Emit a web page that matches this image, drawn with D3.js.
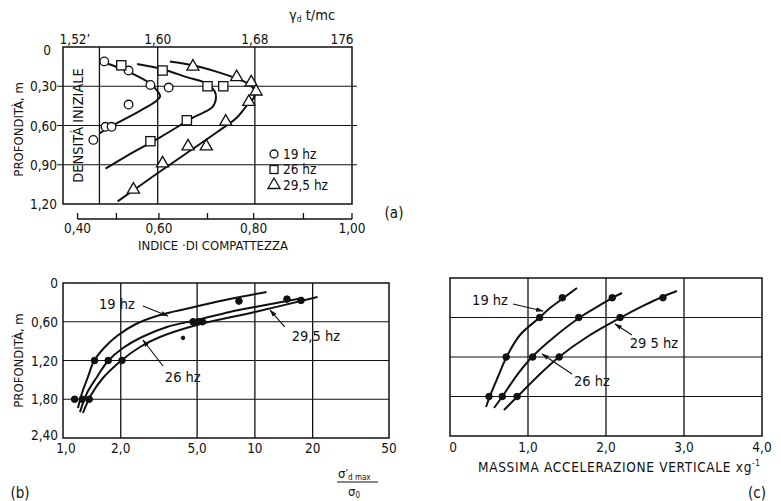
<!DOCTYPE html>
<html><head><meta charset="utf-8">
<script src="https://cdn.jsdelivr.net/npm/d3@7"></script>
<style>
body{margin:0;background:#fff}
svg{display:block}
text{font-family:"DejaVu Sans Condensed","Liberation Sans Narrow","Arial Narrow",sans-serif;fill:#111}
</style>
</head><body>
<svg id="chart" width="781" height="501"></svg>
<script>
// ---------- DATA ----------
// Panel (a): depth (m) vs dry density gamma_d (t/mc)
const depthTicksA = [0, 0.30, 0.60, 0.90, 1.20];
const depthLabelsA = ["0", "0,30", "0,60", "0,90", "1,20"];
const gammaTicks = [1.52, 1.60, 1.68, 1.76];
const gammaLabels = ["1,52\u2019", "1,60", "1,68", "176"];
const gammaGrid = [1.60, 1.68];
const initialDensity = 1.552;
const compTicks = [0.40, 0.50, 0.60, 0.70, 0.80, 0.90, 1.00];
const compTickGamma = [1.534, 1.566, 1.601, 1.641, 1.679, 1.720, 1.760];
const compLabels = {0.4: "0,40", 0.6: "0,60", 0.8: "0,80", 1.0: "1,00"};

const a19Gamma = [1.556, 1.576, 1.594, 1.609, 1.576, 1.557, 1.562, 1.547];
const a19Depth = [0.11, 0.18, 0.29, 0.31, 0.44, 0.61, 0.61, 0.71];
const a26Gamma = [1.570, 1.604, 1.641, 1.654, 1.624, 1.594];
const a26Depth = [0.14, 0.18, 0.30, 0.30, 0.56, 0.72];
const a295Gamma = [1.629, 1.665, 1.677, 1.681, 1.675, 1.656, 1.625, 1.640, 1.604, 1.580];
const a295Depth = [0.15, 0.23, 0.27, 0.34, 0.42, 0.57, 0.76, 0.76, 0.89, 1.09];

const c19Gamma = [1.555, 1.576, 1.594, 1.600, 1.602, 1.599, 1.585, 1.563, 1.552];
const c19Depth = [0.115, 0.19, 0.28, 0.34, 0.375, 0.41, 0.49, 0.60, 0.66];
const c26Gamma = [1.583, 1.604, 1.624, 1.641, 1.647, 1.648, 1.645, 1.629, 1.602, 1.575, 1.557];
const c26Depth = [0.13, 0.17, 0.23, 0.28, 0.34, 0.39, 0.46, 0.54, 0.69, 0.83, 0.93];
const c295Gamma = [1.610, 1.629, 1.649, 1.665, 1.676, 1.680, 1.679, 1.674, 1.665, 1.649, 1.624, 1.596, 1.567];
const c295Depth = [0.11, 0.14, 0.19, 0.24, 0.29, 0.34, 0.39, 0.44, 0.54, 0.65, 0.81, 0.99, 1.18];

// Panel (b): depth vs sigma'dmax/sigma0 (log)
const depthTicksB = [0, 0.60, 1.20, 1.80, 2.40];
const depthLabelsB = ["0", "0,60", "1,20", "1,80", "2,40"];
const ratioTicks = [1, 2, 5, 10, 20, 50];
const ratioLabels = ["1,0", "2,0", "5,0", "10", "20", "50"];
const b19Ratio = [1.15, 1.46, 8.26];
const b19Depth = [1.80, 1.20, 0.28];
const b26Ratio = [1.26, 1.72, 4.76, 5.05, 14.7];
const b26Depth = [1.80, 1.20, 0.60, 0.60, 0.25];
const b295Ratio = [1.37, 2.03, 5.33, 17.4];
const b295Depth = [1.80, 1.20, 0.60, 0.27];
const bStrayRatio = [4.22];
const bStrayDepth = [0.85];

const bc19Ratio = [1.197, 1.256, 1.349, 1.450, 1.635, 1.911, 2.40, 3.20, 4.58, 7.39, 11.5];
const bc19Depth = [1.935, 1.703, 1.455, 1.208, 1.006, 0.821, 0.635, 0.495, 0.387, 0.248, 0.139];
const bc26Ratio = [1.226, 1.334, 1.503, 1.715, 2.054, 2.58, 3.48, 4.98, 7.4, 10.0, 17.8];
const bc26Depth = [2.0, 1.703, 1.455, 1.208, 1.006, 0.836, 0.681, 0.573, 0.449, 0.372, 0.232];
const bc295Ratio = [1.27, 1.40, 1.615, 2.03, 2.52, 3.2, 4.98, 10.0, 21.2];
const bc295Depth = [2.013, 1.734, 1.471, 1.192, 0.991, 0.836, 0.650, 0.449, 0.217];

// Panel (c): depth vs max vertical acceleration (g)
const accTicks = [0, 1, 2, 3, 4];
const accLabels = ["0", "1,0", "2,0", "3,0", "4,0"];
const c_19Acc = [1.44, 1.15, 0.72, 0.50];
const c_19Depth = [0.30, 0.60, 1.20, 1.80];
const c_26Acc = [2.08, 1.65, 1.06, 0.67];
const c_26Depth = [0.30, 0.60, 1.20, 1.80];
const c_295Acc = [2.73, 2.18, 1.40, 0.86];
const c_295Depth = [0.30, 0.60, 1.20, 1.80];

const cc19Acc = [0.462, 0.513, 0.615, 0.731, 0.897, 1.141, 1.282, 1.436, 1.628];
const cc19Depth = [1.96, 1.79, 1.50, 1.185, 0.866, 0.608, 0.456, 0.319, 0.152];
const cc26Acc = [0.564, 0.667, 0.859, 1.064, 1.321, 1.654, 1.885, 2.077, 2.205];
const cc26Depth = [1.975, 1.808, 1.474, 1.185, 0.911, 0.608, 0.44, 0.304, 0.228];
const cc295Acc = [0.692, 0.859, 1.115, 1.397, 1.756, 2.179, 2.474, 2.718, 2.91];
const cc295Depth = [2.005, 1.808, 1.504, 1.2, 0.896, 0.608, 0.425, 0.289, 0.198];

const seriesNames = ["19 hz", "26 hz", "29,5 hz"];

// ---------- DRAWING ----------
const svg = d3.select("#chart");
svg.append("rect").attr("width", 781).attr("height", 501).attr("fill", "#fff");
const ink = "#111";
const zip = (a, b) => a.map((v, i) => [v, b[i]]);

svg.append("defs").append("marker").attr("id", "arr")
  .attr("viewBox", "0 0 10 10").attr("refX", 9).attr("refY", 5)
  .attr("markerWidth", 7).attr("markerHeight", 7).attr("orient", "auto")
  .append("path").attr("d", "M0,2 L10,5 L0,8 Z").attr("fill", ink);

function box(g, x0, x1, y0, y1) {
  g.append("rect").attr("x", x0).attr("y", y0).attr("width", x1 - x0).attr("height", y1 - y0)
    .attr("fill", "none").attr("stroke", ink).attr("stroke-width", 1.5);
}
function hline(g, x0, x1, y, w) {
  g.append("line").attr("x1", x0).attr("x2", x1).attr("y1", y).attr("y2", y).attr("stroke", ink).attr("stroke-width", w || 1.2);
}
function vline(g, x, y0, y1, w) {
  g.append("line").attr("x1", x).attr("x2", x).attr("y1", y0).attr("y2", y1).attr("stroke", ink).attr("stroke-width", w || 1.2);
}
function txt(g, x, y, s, size, anchor) {
  return g.append("text").attr("x", x).attr("y", y).attr("font-size", size).attr("text-anchor", anchor || "middle").text(s);
}
function curve(g, pts, xs, ys) {
  g.append("path").datum(pts)
    .attr("d", d3.line().x(d => xs(d[0])).y(d => ys(d[1])).curve(d3.curveCatmullRom.alpha(0.5)))
    .attr("fill", "none").attr("stroke", ink).attr("stroke-width", 2);
}

// ===== Panel (a) =====
const gA = svg.append("g");
const xA = d3.scaleLinear().domain([1.522, 1.76]).range([63, 352]);
const yA = d3.scaleLinear().domain([0, 1.2]).range([47, 204]);
const compScale = d3.scaleLinear().domain(compTicks).range(compTickGamma.map(xA));

depthTicksA.slice(1, -1).forEach(d => hline(gA, 57, 357, yA(d), 1.2));
gammaGrid.forEach(g => vline(gA, xA(g), yA(0), yA(1.2), 1.3));
vline(gA, xA(initialDensity), yA(0), yA(1.2), 1.3);
box(gA, xA.range()[0], xA.range()[1], yA(0), yA(1.2));

depthTicksA.forEach((d, i) => txt(gA, i === 0 ? 51 : 57, yA(d) + (i === 0 ? 8 : 5), depthLabelsA[i], 13.5, "end"));
gammaTicks.forEach((g, i) => {
  if (i === 0) txt(gA, xA(g) - 1, 44, gammaLabels[i], 13.5, "start");
  else txt(gA, i === 3 ? xA(g) - 10 : xA(g), 44, gammaLabels[i], 13.5);
});
const gt = gA.append("text").attr("x", 289).attr("y", 20).attr("font-size", 14.5);
gt.append("tspan").text("\u03b3");
gt.append("tspan").attr("font-size", 8.5).attr("dy", 2).text("d");
gt.append("tspan").attr("dy", -2).text(" t/mc");

// bottom compactness axis
const axY = 219;
hline(gA, compScale(0.4), compScale(1.0), axY, 1.3);
compTicks.forEach(c => vline(gA, compScale(c), axY - 6, axY, 1.3));
compTicks.forEach(c => { if (compLabels[c]) txt(gA, compScale(c), 233, compLabels[c], 13.5); });
txt(gA, 213, 250, "INDICE \u00b7DI COMPATTEZZA", 13);
txt(gA, 394, 218, "(a)", 15);

gA.append("text").attr("transform", `translate(83,${yA(0.6)}) rotate(-90)`)
  .attr("font-size", 14.5).attr("text-anchor", "middle").text("DENSIT\u00c0  INIZIALE");
gA.append("text").attr("transform", `translate(23,${yA(0.63)}) rotate(-90)`)
  .attr("font-size", 13).attr("text-anchor", "middle").text("PROFONDIT\u00c0, m");

curve(gA, zip(c19Gamma, c19Depth), xA, yA);
curve(gA, zip(c26Gamma, c26Depth), xA, yA);
curve(gA, zip(c295Gamma, c295Depth), xA, yA);

const markStyle = s => s.attr("fill", "#fff").attr("stroke", ink).attr("stroke-width", 1.3);
zip(a19Gamma, a19Depth).forEach(p => markStyle(gA.append("circle").attr("cx", xA(p[0])).attr("cy", yA(p[1])).attr("r", 4.3)));
zip(a26Gamma, a26Depth).forEach(p => markStyle(gA.append("rect").attr("x", xA(p[0]) - 4.6).attr("y", yA(p[1]) - 4.6).attr("width", 9.2).attr("height", 9.2)));
const tri = d3.symbol().type(d3.symbolTriangle).size(64);
zip(a295Gamma, a295Depth).forEach(p => markStyle(gA.append("path").attr("d", tri).attr("transform", `translate(${xA(p[0])},${yA(p[1])})`)));

// legend
const lg = gA.append("g");
const lx = 274, ly = [154, 169.5, 185];
markStyle(lg.append("circle").attr("cx", lx).attr("cy", ly[0]).attr("r", 4));
markStyle(lg.append("rect").attr("x", lx - 4).attr("y", ly[1] - 4).attr("width", 8).attr("height", 8));
markStyle(lg.append("path").attr("d", tri).attr("transform", `translate(${lx},${ly[2]})`));
seriesNames.forEach((s, i) => txt(lg, lx + 9, ly[i] + 4.5, s, 13.5, "start"));

// ===== Panel (b) =====
const gB = svg.append("g");
const xB = d3.scaleLog().domain([1, 50]).range([63, 389]);
const yB = d3.scaleLinear().domain([0, 2.4]).range([283, 438]);
depthTicksB.slice(1, -1).forEach(d => hline(gB, xB(1), xB(50), yB(d), 1.2));
ratioTicks.slice(1, -1).forEach(r => vline(gB, xB(r), yB(0), yB(2.4), 1.3));
box(gB, xB(1), xB(50), yB(0), yB(2.4));
depthTicksB.forEach((d, i) => txt(gB, 58, yB(d) + (i === 4 ? 2 : 5), depthLabelsB[i], 13.5, "end"));
ratioTicks.forEach((r, i) => txt(gB, xB(r) + (i === 0 ? 3 : 0), 453, ratioLabels[i], 13.5));
gB.append("text").attr("transform", `translate(23,${yB(1.2)}) rotate(-90)`)
  .attr("font-size", 13).attr("text-anchor", "middle").text("PROFONDIT\u00c0, m");
// fraction label
const fn = gB.append("text").attr("x", 338).attr("y", 478).attr("font-size", 13);
fn.append("tspan").text("\u03c3\u2032");
fn.append("tspan").attr("font-size", 8).attr("dy", 2).text("d max");
hline(gB, 337, 378, 482, 1);
const fd = gB.append("text").attr("x", 348).attr("y", 496).attr("font-size", 13);
fd.append("tspan").text("\u03c3");
fd.append("tspan").attr("font-size", 8).attr("dy", 2).text("0");
txt(gB, 20, 498, "(b)", 15);

curve(gB, zip(bc19Ratio, bc19Depth), xB, yB);
curve(gB, zip(bc26Ratio, bc26Depth), xB, yB);
curve(gB, zip(bc295Ratio, bc295Depth), xB, yB);
const dot = (g, x, y, r) => g.append("circle").attr("cx", x).attr("cy", y).attr("r", r || 3.3).attr("fill", ink).attr("stroke", ink).attr("stroke-width", 1);
[[b19Ratio, b19Depth], [b26Ratio, b26Depth], [b295Ratio, b295Depth]].forEach(s =>
  zip(s[0], s[1]).forEach(p => dot(gB, xB(p[0]), yB(p[1]))));
zip(bStrayRatio, bStrayDepth).forEach(p => dot(gB, xB(p[0]), yB(p[1]), 1.8));

function annot(g, xs, ys, label, tx, ty, ax0, ay0, ax1, ay1) {
  txt(g, xs(tx), ys(ty) + 5, label, 14.5);
  g.append("line").attr("x1", xs(ax0)).attr("y1", ys(ay0)).attr("x2", xs(ax1)).attr("y2", ys(ay1))
    .attr("stroke", ink).attr("stroke-width", 1.1).attr("marker-end", "url(#arr)");
}
annot(gB, xB, yB, "19 hz", 1.91, 0.325, 2.61, 0.356, 3.52, 0.51);
annot(gB, xB, yB, "26 hz", 4.21, 1.455, 3.32, 1.285, 2.61, 0.883);
annot(gB, xB, yB, "29,5 hz", 20.8, 0.82, 14.3, 0.68, 12.0, 0.42);

// ===== Panel (c) =====
const gC = svg.append("g");
const xC = d3.scaleLinear().domain([0, 4]).range([450, 762]);
const yC = d3.scaleLinear().domain([0, 2.4]).range([278, 436]);
depthTicksB.slice(1, -1).forEach(d => hline(gC, xC(0), xC(4), yC(d), 1.2));
accTicks.slice(1, -1).forEach(a => vline(gC, xC(a), yC(0), yC(2.4), 1.3));
box(gC, xC(0), xC(4), yC(0), yC(2.4));
accTicks.forEach((a, i) => txt(gC, xC(a) + (i === 0 ? 3 : 0), 452, accLabels[i], 13.5));
const ct = gC.append("text").attr("x", 478).attr("y", 472).attr("font-size", 13.5).attr("letter-spacing", 0.7);
ct.append("tspan").text("MASSIMA  ACCELERAZIONE VERTICALE xg");
ct.append("tspan").attr("font-size", 8).attr("dy", -6).text("-1");
txt(gC, 757, 498, "(c)", 15);

curve(gC, zip(cc19Acc, cc19Depth), xC, yC);
curve(gC, zip(cc26Acc, cc26Depth), xC, yC);
curve(gC, zip(cc295Acc, cc295Depth), xC, yC);
[[c_19Acc, c_19Depth], [c_26Acc, c_26Depth], [c_295Acc, c_295Depth]].forEach(s =>
  zip(s[0], s[1]).forEach(p => dot(gC, xC(p[0]), yC(p[1]))));
annot(gC, xC, yC, "19 hz", 0.513, 0.334, 0.808, 0.395, 1.192, 0.501);
annot(gC, xC, yC, "26 hz", 1.82, 1.565, 1.564, 1.458, 1.18, 1.155);
annot(gC, xC, yC, "29 5 hz", 2.615, 0.987, 2.333, 0.866, 2.115, 0.699);
</script>
</body></html>
